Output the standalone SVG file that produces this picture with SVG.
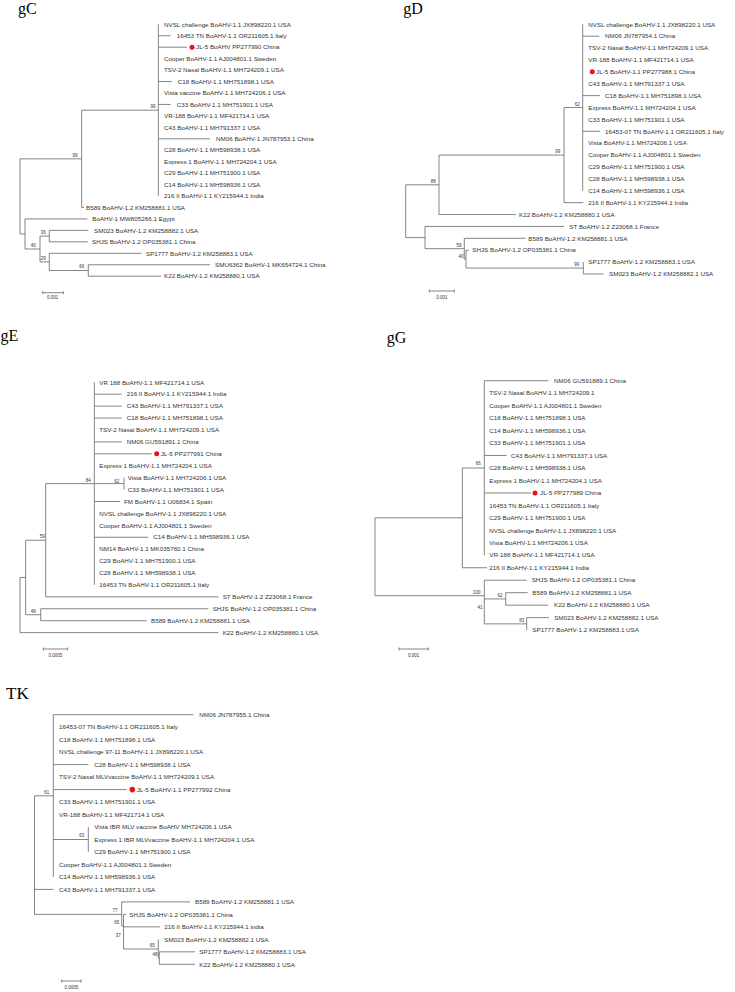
<svg xmlns="http://www.w3.org/2000/svg" width="735" height="992" viewBox="0 0 735 992">
<style>
.e{stroke:#666;stroke-width:0.8;fill:none}
.l{font-family:"Liberation Sans",Arial,sans-serif;font-size:6.25px;fill:#333}
.b{font-family:"Liberation Sans",Arial,sans-serif;font-size:4.5px;fill:#333;text-anchor:middle}
.t{font-family:"Liberation Serif","Times New Roman",serif;font-size:16px;fill:#000}
.dot{fill:#e8121a}
</style>
<rect width="735" height="992" fill="#fff"/>

<!-- gC -->
<g id="gC">
<text class="t" x="18" y="13.5">gC</text>
<g id="gC-edges" class="e"><path d="M158.3 24.3V196.05M158.3 35.75H170.7M158.3 47.2H187M158.3 81.55H171.7M158.3 104.45H170.7M158.3 138.8H210M81.7 110.2H158.3M81.7 110.2V207.5M81.7 207.5H84M20 158.85H81.7M20 158.85V234M20 234H25M25 218.95V249M25 218.95H87.3M25 249H40M40 236.1V261.9M40 236.1H49.3M49.3 230.4V241.85M49.3 230.4H88.3M49.3 241.85H87.7M40 261.9H49.3M49.3 253.3V270.5M49.3 253.3H141.7M49.3 270.5H88.3M88.3 264.75V276.2M88.3 264.75H210M88.3 276.2H161M42.7 292.7H63.3M42.7 291.2V294.2M63.3 291.2V294.2"/></g>
<g id="gC-L0"><text class="l" x="164" y="26.5">NVSL challenge BoAHV-1.1 JX898220.1 USA</text></g>
<g id="gC-L1"><text class="l" x="176.7" y="37.95">16453 TN BoAHV-1.1 OR211605.1 Italy</text></g>
<g id="gC-L2"><circle class="dot" cx="192" cy="47.2" r="2.5"/><text class="l" x="196" y="49.4">JL-5 BoAHV PP277990 China</text></g>
<g id="gC-L3"><text class="l" x="164" y="60.85">Cooper BoAHV-1.1 AJ004801.1 Sweden</text></g>
<g id="gC-L4"><text class="l" x="164" y="72.3">TSV-2 Nasal BoAHV-1.1 MH724209.1 USA</text></g>
<g id="gC-L5"><text class="l" x="177.7" y="83.75">C18 BoAHV-1.1 MH751898.1 USA</text></g>
<g id="gC-L6"><text class="l" x="164" y="95.2">Vista vaccine BoAHV-1.1 MH724206.1 USA</text></g>
<g id="gC-L7"><text class="l" x="176.7" y="106.65">C33 BoAHV-1.1 MH751901.1 USA</text></g>
<g id="gC-L8"><text class="l" x="164" y="118.1">VR-188 BoAHV-1.1 MF421714.1 USA</text></g>
<g id="gC-L9"><text class="l" x="164" y="129.55">C43 BoAHV-1.1 MH791337.1 USA</text></g>
<g id="gC-L10"><text class="l" x="216" y="141">NM06 BoAHV-1 JN787953.1 China</text></g>
<g id="gC-L11"><text class="l" x="164" y="152.45">C28 BoAHV-1.1 MH598938.1 USA</text></g>
<g id="gC-L12"><text class="l" x="164" y="163.9">Express 1 BoAHV-1.1 MH724204.1 USA</text></g>
<g id="gC-L13"><text class="l" x="164" y="175.35">C29 BoAHV-1.1 MH751900.1 USA</text></g>
<g id="gC-L14"><text class="l" x="164" y="186.8">C14 BoAHV-1.1 MH598936.1 USA</text></g>
<g id="gC-L15"><text class="l" x="164" y="198.25">216 II BoAHV-1.1 KY215944.1 India</text></g>
<g id="gC-L16"><text class="l" x="86" y="209.7">B589 BoAHV-1.2 KM258881.1 USA</text></g>
<g id="gC-L17"><text class="l" x="92.3" y="221.15">BoAHV-1 MW805266.1 Egypt</text></g>
<g id="gC-L18"><text class="l" x="94" y="232.6">SM023 BoAHV-1.2 KM258882.1 USA</text></g>
<g id="gC-L19"><text class="l" x="92" y="244.05">SHJS BoAHV-1.2 OP035381.1 China</text></g>
<g id="gC-L20"><text class="l" x="146" y="255.5">SP1777 BoAHV-1.2 KM258883.1 USA</text></g>
<g id="gC-L21"><text class="l" x="215" y="266.95">SMU6362 BoAHV-1 MK654724.1 China</text></g>
<g id="gC-L22"><text class="l" x="164" y="278.4">K22 BoAHV-1.2 KM258880.1 USA</text></g>
<g id="gC-boot">
<text class="b" x="153" y="108.3">99</text>
<text class="b" x="75" y="156.6">99</text>
<text class="b" x="43.3" y="233.9">36</text>
<text class="b" x="33.3" y="246.6">40</text>
<text class="b" x="43.3" y="259.9">29</text>
<text class="b" x="81.7" y="268.3">66</text>
<text class="b" x="52.7" y="299.3">0.001</text>
</g>
</g>

<!-- gD -->
<g id="gD">
<text class="t" x="403.3" y="13.5">gD</text>
<g id="gD-edges" class="e"><path d="M582.7 24.3V190.76M582.7 36.19H599.3M582.7 95.64H600M582.7 131.31H600M564 107.53H582.7M564 107.53V202.65M564 202.65H583.3M439 155.09H564M439 155.09V214.54M439 214.54H515.7M405.7 184.8H439M405.7 184.8V237.6M405.7 237.6H425M425 226.43V248.7M425 226.43H564.3M425 248.7H464.3M464.3 238.32V259.13M464.3 238.32H525.7M464.3 259.13H466M466 250.21V268.05M466 250.21H469M466 268.05H583.3M583.3 262.1V273.99M583.3 273.99H603.3M429.3 291H454.3M429.3 289.5V292.5M454.3 289.5V292.5"/></g>
<g id="gD-L0"><text class="l" x="588.3" y="26.5">NVSL challenge BoAHV-1.1 JX898220.1 USA</text></g>
<g id="gD-L1"><text class="l" x="605" y="38.39">NM06 JN787954.1 China</text></g>
<g id="gD-L2"><text class="l" x="588.3" y="50.28">TSV-2 Nasal BoAHV-1.1 MH724209.1 USA</text></g>
<g id="gD-L3"><text class="l" x="588.3" y="62.17">VR-188 BoAHV-1.1 MF421714.1 USA</text></g>
<g id="gD-L4"><circle class="dot" cx="592.3" cy="71.86" r="2.5"/><text class="l" x="596" y="74.06">JL-5 BoAHV-1.1 PP277988.1 China</text></g>
<g id="gD-L5"><text class="l" x="588.3" y="85.95">C43 BoAHV-1.1 MH791337.1 USA</text></g>
<g id="gD-L6"><text class="l" x="605" y="97.84">C18 BoAHV-1.1 MH751898.1 USA</text></g>
<g id="gD-L7"><text class="l" x="588.3" y="109.73">Express BoAHV-1.1 MH724204.1 USA</text></g>
<g id="gD-L8"><text class="l" x="588.3" y="121.62">C33 BoAHV-1.1 MH751901.1 USA</text></g>
<g id="gD-L9"><text class="l" x="605" y="133.51">16453-07 TN BoAHV-1.1 OR211605.1 Italy</text></g>
<g id="gD-L10"><text class="l" x="588.3" y="145.4">Vista BoAHV-1.1 MH724206.1 USA</text></g>
<g id="gD-L11"><text class="l" x="588.3" y="157.29">Cooper BoAHV-1.1 AJ004801.1 Sweden</text></g>
<g id="gD-L12"><text class="l" x="588.3" y="169.18">C29 BoAHV-1.1 MH751900.1 USA</text></g>
<g id="gD-L13"><text class="l" x="588.3" y="181.07">C28 BoAHV-1.1 MH598938.1 USA</text></g>
<g id="gD-L14"><text class="l" x="588.3" y="192.96">C14 BoAHV-1.1 MH598936.1 USA</text></g>
<g id="gD-L15"><text class="l" x="588.3" y="204.85">216 II BoAHV-1.1 KY215944.1 India</text></g>
<g id="gD-L16"><text class="l" x="519" y="216.74">K22 BoAHV-1.2 KM258880.1 USA</text></g>
<g id="gD-L17"><text class="l" x="569.3" y="228.63">ST BoAHV-1.2 Z23068.1 France</text></g>
<g id="gD-L18"><text class="l" x="528.3" y="240.52">B589 BoAHV-1.2 KM258881.1 USA</text></g>
<g id="gD-L19"><text class="l" x="472.3" y="252.41">SHJS BoAHV-1.2 OP035381.1 China</text></g>
<g id="gD-L20"><text class="l" x="588.3" y="264.3">SP1777 BoAHV-1.2 KM258883.1 USA</text></g>
<g id="gD-L21"><text class="l" x="609" y="276.19">SM023 BoAHV-1.2 KM258882.1 USA</text></g>
<g id="gD-boot">
<text class="b" x="577.3" y="105.6">62</text>
<text class="b" x="557.7" y="152.6">99</text>
<text class="b" x="433.3" y="182.6">88</text>
<text class="b" x="459" y="246.6">59</text>
<text class="b" x="461" y="257.6">40</text>
<text class="b" x="576.7" y="265.9">99</text>
<text class="b" x="442" y="298.5">0.001</text>
</g>
</g>

<!-- gE -->
<g id="gE">
<text class="t" x="0.5" y="341">gE</text>
<g id="gE-edges" class="e"><path d="M94.3 382.3V584.94M94.3 394.22H121.7M94.3 406.14H121.7M94.3 418.06H121.7M94.3 441.9H121.7M94.3 453.82H151.7M45.7 483.62H124M124 477.66V489.58M94.3 501.5H120M94.3 537.26H148.3M45.7 483.62V596.86M45.7 596.86H218.3M25.7 540.24H45.7M25.7 540.24V614.74M25.7 614.74H40.7M40.7 608.78V620.7M40.7 608.78H208.3M40.7 620.7H146.7M20 577.49H25.7M20 577.49V632.62M20 632.62H218.3M43.3 649H67.7M43.3 647.5V650.5M67.7 647.5V650.5"/></g>
<g id="gE-L0"><text class="l" x="99.3" y="384.5">VR 188 BoAHV-1.1 MF421714.1 USA</text></g>
<g id="gE-L1"><text class="l" x="126.7" y="396.42">216 II BoAHV-1.1 KY215944.1 India</text></g>
<g id="gE-L2"><text class="l" x="126.7" y="408.34">C43 BoAHV-1.1 MH791337.1 USA</text></g>
<g id="gE-L3"><text class="l" x="126.7" y="420.26">C18 BoAHV-1.1 MH751898.1 USA</text></g>
<g id="gE-L4"><text class="l" x="99.3" y="432.18">TSV-2 Nasal BoAHV-1.1 MH724209.1 USA</text></g>
<g id="gE-L5"><text class="l" x="126.7" y="444.1">NM06 GU591891.1 China</text></g>
<g id="gE-L6"><circle class="dot" cx="156.7" cy="453.82" r="2.5"/><text class="l" x="160.7" y="456.02">JL-5 PP277991 China</text></g>
<g id="gE-L7"><text class="l" x="99.3" y="467.94">Express 1 BoAHV-1.1 MH724204.1 USA</text></g>
<g id="gE-L8"><text class="l" x="127.7" y="479.86">Vista BoAHV-1.1 MH724206.1 USA</text></g>
<g id="gE-L9"><text class="l" x="127.7" y="491.78">C33 BoAHV-1.1 MH751901.1 USA</text></g>
<g id="gE-L10"><text class="l" x="124" y="503.7">FM BoAHV-1.1 U06834.1 Spain</text></g>
<g id="gE-L11"><text class="l" x="99.3" y="515.62">NVSL challenge BoAHV-1.1 JX898220.1 USA</text></g>
<g id="gE-L12"><text class="l" x="99.3" y="527.54">Cooper BoAHV-1.1 AJ004801.1 Sweden</text></g>
<g id="gE-L13"><text class="l" x="153.3" y="539.46">C14 BoAHV-1.1 MH598936.1 USA</text></g>
<g id="gE-L14"><text class="l" x="99.3" y="551.38">NM14 BoAHV-1.1 MK035760.1 China</text></g>
<g id="gE-L15"><text class="l" x="99.3" y="563.3">C29 BoAHV-1.1 MH751900.1 USA</text></g>
<g id="gE-L16"><text class="l" x="99.3" y="575.22">C28 BoAHV-1.1 MH598938.1 USA</text></g>
<g id="gE-L17"><text class="l" x="99.3" y="587.14">16453 TN BoAHV-1.1 OR211605.1 Italy</text></g>
<g id="gE-L18"><text class="l" x="222.7" y="599.06">ST BoAHV-1.2 Z23068.1 France</text></g>
<g id="gE-L19"><text class="l" x="212.7" y="610.98">SHJS BoAHV-1.2 OP035381.1 China</text></g>
<g id="gE-L20"><text class="l" x="151" y="622.9">B589 BoAHV-1.2 KM258881.1 USA</text></g>
<g id="gE-L21"><text class="l" x="222.7" y="634.82">K22 BoAHV-1.2 KM258880.1 USA</text></g>
<g id="gE-boot">
<text class="b" x="88.3" y="481.6">84</text>
<text class="b" x="116.7" y="482.6">62</text>
<text class="b" x="42.3" y="538.3">59</text>
<text class="b" x="33.3" y="612.6">48</text>
<text class="b" x="55.5" y="657.3">0.0005</text>
</g>
</g>

<!-- gG -->
<g id="gG">
<text class="t" x="386.7" y="343">gG</text>
<g id="gG-edges" class="e"><path d="M484.3 380.7V555.28M484.3 380.7H548.3M484.3 455.52H506.7M484.3 492.93H531M462.3 467.99H484.3M462.3 467.99V567.75M462.3 567.75H487M375 517.87H462.3M375 517.87V595.7M375 595.7H484.3M484.3 580.22V623.87M484.3 580.22H526.7M484.3 598.93H505.7M505.7 592.69V605.16M505.7 592.69H527.7M505.7 605.16H548.3M484.3 623.87H526.7M526.7 617.63V630.1M526.7 617.63H549M399 649H428.3M399 647.5V650.5M428.3 647.5V650.5"/></g>
<g id="gG-L0"><text class="l" x="554" y="382.9">NM06 GU591889.1 China</text></g>
<g id="gG-L1"><text class="l" x="489.3" y="395.37">TSV-2 Nasal BoAHV-1.1 MH724209.1</text></g>
<g id="gG-L2"><text class="l" x="489.3" y="407.84">Cooper BoAHV-1.1 AJ004801.1 Sweden</text></g>
<g id="gG-L3"><text class="l" x="489.3" y="420.31">C18 BoAHV-1.1 MH751898.1 USA</text></g>
<g id="gG-L4"><text class="l" x="489.3" y="432.78">C14 BoAHV-1.1 MH598936.1 USA</text></g>
<g id="gG-L5"><text class="l" x="489.3" y="445.25">C33 BoAHV-1.1 MH751901.1 USA</text></g>
<g id="gG-L6"><text class="l" x="511" y="457.72">C43 BoAHV-1.1 MH791337.1 USA</text></g>
<g id="gG-L7"><text class="l" x="489.3" y="470.19">C28 BoAHV-1.1 MH598938.1 USA</text></g>
<g id="gG-L8"><text class="l" x="489.3" y="482.66">Express 1 BoAHV-1.1 MH724204.1 USA</text></g>
<g id="gG-L9"><circle class="dot" cx="535" cy="492.93" r="2.5"/><text class="l" x="540" y="495.13">JL-5 PP277989 China</text></g>
<g id="gG-L10"><text class="l" x="489.3" y="507.6">16453 TN BoAHV-1.1 OR211605.1 Italy</text></g>
<g id="gG-L11"><text class="l" x="489.3" y="520.07">C29 BoAHV-1.1 MH751900.1 USA</text></g>
<g id="gG-L12"><text class="l" x="489.3" y="532.54">NVSL challenge BoAHV-1.1 JX898220.1 USA</text></g>
<g id="gG-L13"><text class="l" x="489.3" y="545.01">Vista BoAHV-1.1 MH724206.1 USA</text></g>
<g id="gG-L14"><text class="l" x="489.3" y="557.48">VR-188 BoAHV-1.1 MF421714.1 USA</text></g>
<g id="gG-L15"><text class="l" x="489.3" y="569.95">216 II BoAHV-1.1 KY215944.1 India</text></g>
<g id="gG-L16"><text class="l" x="531.7" y="582.42">SHJS BoAHV-1.2 OP035381.1 China</text></g>
<g id="gG-L17"><text class="l" x="532.3" y="594.89">B589 BoAHV-1.2 KM258881.1 USA</text></g>
<g id="gG-L18"><text class="l" x="554" y="607.36">K22 BoAHV-1.2 KM258880.1 USA</text></g>
<g id="gG-L19"><text class="l" x="554.3" y="619.83">SM023 BoAHV-1.2 KM258882.1 USA</text></g>
<g id="gG-L20"><text class="l" x="532.3" y="632.3">SP1777 BoAHV-1.2 KM258883.1 USA</text></g>
<g id="gG-boot">
<text class="b" x="478.3" y="464.9">66</text>
<text class="b" x="476.7" y="593.9">100</text>
<text class="b" x="500" y="597.3">62</text>
<text class="b" x="480" y="609.3">41</text>
<text class="b" x="521.7" y="622.3">83</text>
<text class="b" x="413.7" y="657.3">0.001</text>
</g>
</g>

<!-- TK -->
<g id="TK">
<text class="t" x="6" y="699" style="font-size:17px">TK</text>
<g id="TK-edges" class="e"><path d="M53.3 714.7V876.94M53.3 714.7H193.3M53.3 764.62H88.3M53.3 789.58H126.7M53.3 839.5H88.3M88.3 827.02V851.98M34.5 795.82H53.3M34.5 795.82V914.38M34.5 889.42H53.3M34.5 914.38H121.7M121.7 901.9V926M121.7 901.9H190M121.7 926H123.5M123.5 914.38V949M123.5 914.38H126M123.5 926.86H160M123.5 949H158.3M158.3 939.34V958M158.3 958H159.3M159.3 951.82V964.3M159.3 951.82H195M159.3 964.3H195M61.7 981H81M61.7 979.5V982.5M81 979.5V982.5"/></g>
<g id="TK-L0"><text class="l" x="199.3" y="716.9">NM06 JN787955.1 China</text></g>
<g id="TK-L1"><text class="l" x="59" y="729.38">16453-07 TN BoAHV-1.1 OR211605.1 Italy</text></g>
<g id="TK-L2"><text class="l" x="59" y="741.86">C18 BoAHV-1.1 MH751898.1 USA</text></g>
<g id="TK-L3"><text class="l" x="59" y="754.34">NVSL challenge 97-11 BoAHV-1.1 JX898220.1 USA</text></g>
<g id="TK-L4"><text class="l" x="94.3" y="766.82">C28 BoAHV-1.1 MH598938.1 USA</text></g>
<g id="TK-L5"><text class="l" x="59" y="779.3">TSV-2 Nasal MLVvaccine BoAHV-1.1 MH724209.1 USA</text></g>
<g id="TK-L6"><circle class="dot" cx="132.3" cy="789.58" r="2.8"/><text class="l" x="136.7" y="791.78">JL-5 BoAHV-1.1 PP277992 China</text></g>
<g id="TK-L7"><text class="l" x="59" y="804.26">C33 BoAHV-1.1 MH751901.1 USA</text></g>
<g id="TK-L8"><text class="l" x="59" y="816.74">VR-188 BoAHV-1.1 MF421714.1 USA</text></g>
<g id="TK-L9"><text class="l" x="94.3" y="829.22">Vista IBR MLV vaccine BoAHV MH724206.1 USA</text></g>
<g id="TK-L10"><text class="l" x="94.3" y="841.7">Express 1 IBR MLVvaccine BoAHV-1.1 MH724204.1 USA</text></g>
<g id="TK-L11"><text class="l" x="94.3" y="854.18">C29 BoAHV-1.1 MH751900.1 USA</text></g>
<g id="TK-L12"><text class="l" x="59" y="866.66">Cooper BoAHV-1.1 AJ004801.1 Sweden</text></g>
<g id="TK-L13"><text class="l" x="59" y="879.14">C14 BoAHV-1.1 MH598936.1 USA</text></g>
<g id="TK-L14"><text class="l" x="59" y="891.62">C43 BoAHV-1.1 MH791337.1 USA</text></g>
<g id="TK-L15"><text class="l" x="195" y="904.1">B589 BoAHV-1.2 KM258881.1 USA</text></g>
<g id="TK-L16"><text class="l" x="129.3" y="916.58">SHJS BoAHV-1.2 OP035381.1 China</text></g>
<g id="TK-L17"><text class="l" x="164.3" y="929.06">216 II BoAHV-1.1 KY215944.1 india</text></g>
<g id="TK-L18"><text class="l" x="164.3" y="941.54">SM023 BoAHV-1.2 KM258882.1 USA</text></g>
<g id="TK-L19"><text class="l" x="199.3" y="954.02">SP1777 BoAHV-1.2 KM258883.1 USA</text></g>
<g id="TK-L20"><text class="l" x="199.3" y="966.5">K22 BoAHV-1.2 KM258880.1 USA</text></g>
<g id="TK-boot">
<text class="b" x="46.7" y="793.9">61</text>
<text class="b" x="81.7" y="837.3">63</text>
<text class="b" x="115" y="911.6">77</text>
<text class="b" x="116.7" y="924.3">65</text>
<text class="b" x="118.3" y="936.6">37</text>
<text class="b" x="152.3" y="946.6">65</text>
<text class="b" x="155" y="955.9">48</text>
<text class="b" x="71.3" y="988.5">0.0005</text>
</g>
</g>
</svg>
